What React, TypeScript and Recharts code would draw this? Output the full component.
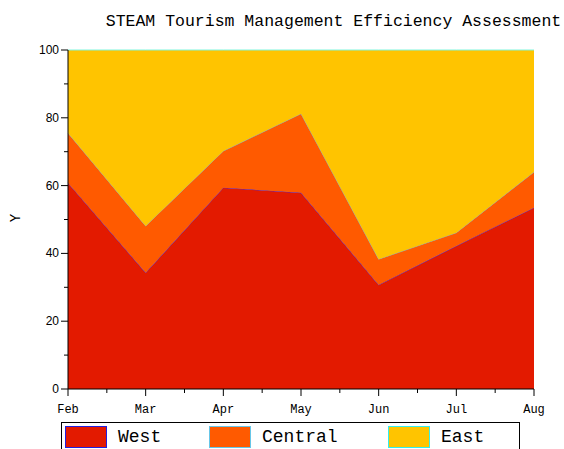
import { AreaChart, Area, XAxis, YAxis } from "recharts";

const months = ["Feb", "Mar", "Apr", "May", "Jun", "Jul", "Aug"];
const west = [60.8, 34.3, 59.4, 57.9, 30.7, 42.2, 53.5];
const central = [14.7, 13.8, 10.8, 23.3, 7.6, 3.9, 10.5];
const east = [24.5, 51.9, 29.8, 18.8, 61.7, 53.9, 36.0];

const xTicks = [0, 0.5, 1, 1.5, 2, 2.5, 3, 3.5, 4, 4.5, 5, 5.5, 6];
const yTicks = [0, 10, 20, 30, 40, 50, 60, 70, 80, 90, 100];

const series = [
  { key: "West", values: west, fill: "#e31a00", stroke: "#4a2ad8", border: "#2020e0" },
  { key: "Central", values: central, fill: "#ff5a00", stroke: "#8aa4b0", border: "#66c6e8" },
  { key: "East", values: east, fill: "#ffc400", stroke: "#7ff5dc", border: "#33eeee" },
];

const data = months.map((m, i) => ({
  x: i,
  month: m,
  West: west[i],
  Central: central[i],
  East: east[i],
}));

const monoFont = "'Liberation Mono', 'DejaVu Sans Mono', monospace";

function XTick(props: any) {
  const { x, y, payload } = props;
  const major = Number.isInteger(payload.value);
  return (
    <g>
      <line x1={x} y1={y - 8} x2={x} y2={y - 8 + (major ? 7 : 4)} stroke="#000" />
      {major && (
        <text x={x} y={y + 16} textAnchor="middle" fontSize={12} fontFamily={monoFont} fill="#000">
          {months[payload.value]}
        </text>
      )}
    </g>
  );
}

function YTick(props: any) {
  const { x, y, payload } = props;
  const major = payload.value % 20 === 0;
  return (
    <g>
      <line x1={x + 8} y1={y} x2={x + 8 - (major ? 7 : 4)} y2={y} stroke="#000" />
      {major && (
        <text x={x - 1} y={y + 4} textAnchor="end" fontSize={12} fontFamily="'Liberation Sans', Arial, sans-serif" fill="#000">
          {payload.value}
        </text>
      )}
    </g>
  );
}

export default function App() {
  return (
    <div style={{ position: "absolute", left: 0, top: 0, width: 564, height: 449, background: "#fff" }}>
      <div
        style={{
          position: "absolute",
          left: 103,
          top: 12,
          width: 461,
          textAlign: "center",
          fontFamily: monoFont,
          fontSize: 16.5,
          color: "#000",
          whiteSpace: "nowrap",
        }}
      >
        STEAM Tourism Management Efficiency Assessment
      </div>
      <div
        style={{
          position: "absolute",
          left: 12,
          top: 210,
          fontFamily: monoFont,
          fontSize: 14,
          transform: "rotate(-90deg)",
        }}
      >
        Y
      </div>
      <AreaChart
        width={564}
        height={449}
        data={data}
        margin={{ top: 50, right: 30, bottom: 30, left: 0 }}
      >
        <XAxis
          dataKey="x"
          type="number"
          domain={[0, 6]}
          ticks={xTicks}
          interval={0}
          tick={<XTick />}
          tickLine={false}
          axisLine={{ stroke: "#000" }}
          height={30}
        />
        <YAxis
          type="number"
          domain={[0, 100]}
          ticks={yTicks}
          interval={0}
          tick={<YTick />}
          tickLine={false}
          axisLine={{ stroke: "#000" }}
          width={68}
        />
        {series.map((s) => (
          <Area
            key={s.key}
            type="linear"
            dataKey={s.key}
            stackId="a"
            fill={s.fill}
            fillOpacity={1}
            stroke={s.stroke}
            strokeWidth={1}
            isAnimationActive={false}
          />
        ))}
      </AreaChart>
      <div
        style={{
          position: "absolute",
          left: 61,
          top: 422,
          width: 459,
          height: 30,
          border: "1px solid #000",
          boxSizing: "border-box",
          fontFamily: monoFont,
          fontSize: 18,
        }}
      >
        {series.map((s, i) => (
          <div
            key={s.key}
            style={{
              position: "absolute",
              left: [3, 147, 326][i],
              top: 3,
              display: "flex",
              alignItems: "center",
            }}
          >
            <div
              style={{
                width: 42,
                height: 22,
                background: s.fill,
                border: `1px solid ${s.border}`,
                boxSizing: "border-box",
              }}
            />
            <span style={{ marginLeft: 11, lineHeight: "22px" }}>{s.key}</span>
          </div>
        ))}
      </div>
    </div>
  );
}
